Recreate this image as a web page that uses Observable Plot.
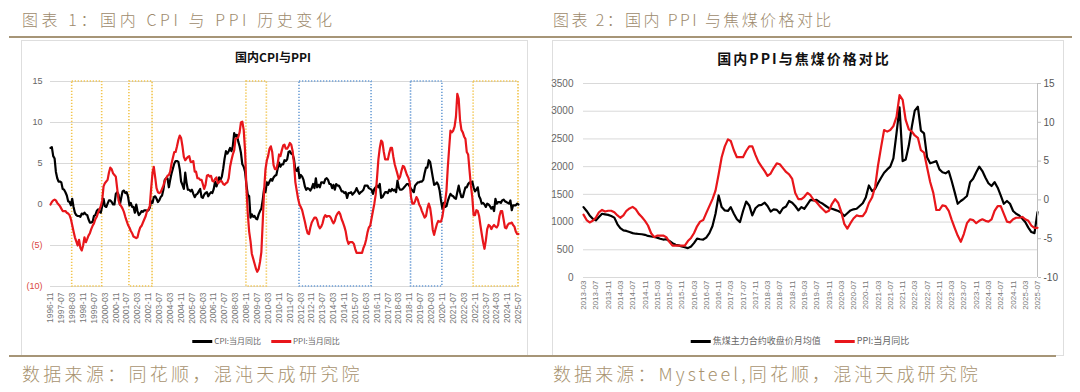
<!DOCTYPE html>
<html><head><meta charset="utf-8">
<script src="https://cdn.jsdelivr.net/npm/d3@7"></script>
<script src="https://cdn.jsdelivr.net/npm/@observablehq/plot@0.6"></script>
<style>
body{margin:0;background:#fff;}
#page{position:relative;width:1080px;height:392px;overflow:hidden;font-family:"Noto Sans CJK SC","Noto Sans",sans-serif;}
.head{position:absolute;top:11px;font-size:16px;line-height:16px;color:#9d8a6c;white-space:nowrap;font-weight:300;}
.src{position:absolute;top:364px;font-size:18px;line-height:18px;color:#a8936f;white-space:nowrap;font-weight:300;}
.rule{position:absolute;height:2px;background:#a69577;}
.box{position:absolute;border:1px solid #dedede;box-sizing:border-box;}
.ptitle{position:absolute;font-weight:700;color:#111;white-space:nowrap;transform:translateX(-50%);}
.legend{position:absolute;display:flex;align-items:center;white-space:nowrap;color:#666;transform:translateX(-50%);}
.sw{display:inline-block;width:20px;height:3px;margin-right:2px;}
.plot{position:absolute;}
</style>
</head><body>
<div id="page">
  <div class="head" style="left:22px;letter-spacing:3.6px">图表 1：国内 CPI 与 PPI 历史变化</div>
  <div class="head" style="left:553px;letter-spacing:2.4px">图表 2：国内 PPI 与焦煤价格对比</div>
  <div class="rule" style="left:9px;top:36px;width:1063px"></div>
  <div class="box" style="left:21px;top:40px;width:507px;height:316px"></div>
  <div class="box" style="left:552px;top:40px;width:512px;height:316px"></div>
  <div class="ptitle" style="left:273px;top:49px;font-size:12px;line-height:16px">国内CPI与PPI</div>
  <div class="ptitle" style="left:804px;top:49px;font-size:14px;line-height:18px;letter-spacing:2px">国内PPI与焦煤价格对比</div>
  <div id="leftPlot" class="plot" style="left:21px;top:40px"></div>
  <div id="rightPlotA" class="plot" style="left:552px;top:40px"></div>
  <div id="rightPlotB" class="plot" style="left:552px;top:40px"></div>
  <div class="legend" style="left:266px;top:335px;font-size:8px;line-height:12px">
    <span class="sw" style="background:#000"></span><span>CPI:当月同比</span>
    <span class="sw" style="background:#e8161b;margin-left:10px"></span><span>PPI:当月同比</span>
  </div>
  <div class="legend" style="left:800px;top:335px;font-size:9px;line-height:12px">
    <span class="sw" style="background:#000"></span><span>焦煤主力合约收盘价月均值</span>
    <span class="sw" style="background:#e8161b;margin-left:14px"></span><span>PPI:当月同比</span>
  </div>
  <div class="rule" style="left:9px;top:355px;width:1047px"></div>
  <div class="src" style="left:22px;letter-spacing:3.3px">数据来源：同花顺，混沌天成研究院</div>
  <div class="src" style="left:553px;letter-spacing:3.1px">数据来源：Mysteel,同花顺，混沌天成研究院</div>
</div>
<script>
// ---------- DATA ----------
// Monthly series start at 1996-11, end at 2025-07
const cpiStart = "1996-11";
const cpi = [
  6.9, 7.0,
  5.9, 5.6, 4.0, 3.2, 2.8, 2.8, 2.7, 1.9, 1.8, 1.5, 1.1, 0.4,
  0.3, -0.1, 0.7, -0.3, -1.0, -1.3, -1.4, -1.4, -1.5, -1.1, -1.2, -1.0,
  -1.2, -1.3, -1.8, -2.2, -2.2, -2.1, -1.4, -1.3, -0.8, -0.6, -0.9, -1.0,
  -0.2, 0.7, -0.2, -0.3, 0.1, 0.5, 0.5, 0.3, 0.0, 0.0, 1.3, 1.5,
  1.2, 0.0, 0.8, 1.6, 1.7, 1.4, 1.5, 1.0, -0.1, 0.2, -0.3, -0.3,
  -1.0, 0.0, -0.8, -1.3, -1.1, -0.8, -0.9, -0.7, -0.7, -0.8, -0.7, -0.4,
  0.4, 0.2, 0.9, 1.0, 0.7, 0.3, 0.5, 0.9, 1.1, 1.8, 3.0, 3.2,
  3.2, 2.1, 3.0, 3.8, 4.4, 5.0, 5.3, 5.3, 5.2, 4.3, 2.8, 2.4,
  1.9, 3.9, 2.7, 1.8, 1.8, 1.6, 1.8, 1.3, 0.9, 1.2, 1.3, 1.6,
  1.9, 0.9, 0.8, 1.2, 1.4, 1.5, 1.0, 1.3, 1.5, 1.4, 1.9, 2.8,
  2.2, 2.7, 3.3, 3.0, 3.4, 4.4, 5.6, 6.5, 6.2, 6.5, 6.9, 6.5,
  7.1, 8.7, 8.3, 8.5, 7.7, 7.1, 6.3, 4.9, 4.6, 4.0, 2.4, 1.2,
  1.0, -1.6, -1.2, -1.5, -1.4, -1.7, -1.8, -1.2, -0.8, -0.5, 0.6, 1.9,
  1.5, 2.7, 2.4, 2.8, 3.1, 2.9, 3.3, 3.5, 3.6, 4.4, 5.1, 4.6,
  4.9, 4.9, 5.4, 5.3, 5.5, 6.4, 6.5, 6.2, 6.1, 5.5, 4.2, 4.1,
  4.5, 3.2, 3.6, 3.4, 3.0, 2.2, 1.8, 2.0, 1.9, 1.7, 2.0, 2.5,
  2.0, 3.2, 2.1, 2.4, 2.1, 2.7, 2.7, 2.6, 3.1, 3.2, 3.0, 2.5,
  2.5, 2.0, 2.4, 1.8, 2.5, 2.3, 2.3, 2.0, 1.6, 1.6, 1.4, 1.5,
  0.8, 1.4, 1.4, 1.5, 1.2, 1.4, 1.6, 2.0, 1.6, 1.3, 1.5, 1.6,
  1.8, 2.3, 2.3, 2.3, 2.0, 1.9, 1.8, 1.3, 1.9, 2.1, 2.3, 2.1,
  2.5, 0.8, 0.9, 1.2, 1.5, 1.5, 1.4, 1.8, 1.6, 1.9, 1.7, 1.8,
  1.5, 2.9, 2.1, 1.8, 1.8, 1.9, 2.1, 2.3, 2.5, 2.5, 2.2, 1.9,
  1.7, 1.5, 2.3, 2.5, 2.7, 2.7, 2.8, 2.8, 3.0, 3.8, 4.5, 4.5,
  5.4, 5.2, 4.3, 3.3, 2.4, 2.5, 2.7, 2.4, 1.7, 0.5, -0.5, 0.2,
  -0.3, -0.2, 0.4, 0.9, 1.3, 1.1, 1.0, 0.8, 0.7, 1.5, 2.3, 1.5,
  0.9, 0.9, 1.5, 2.1, 2.1, 2.5, 2.7, 2.5, 2.8, 2.1, 1.6, 1.8,
  2.1, 1.0, 0.7, 0.1, 0.2, 0.0, -0.3, 0.1, 0.0, -0.2, -0.5, -0.3,
  -0.8, 0.7, 0.1, 0.3, 0.3, 0.2, 0.5, 0.6, 0.4, 0.3, 0.2, 0.1,
  0.5, -0.7, -0.1, -0.1, -0.1, 0.1, 0.0
];
const ppi = [
  0.0, 0.3,
  0.5, 0.6, 0.5, 0.2, 0.0, -0.2, -0.5, -0.8, -0.8, -0.8, -1.0, -1.1,
  -1.3, -1.8, -2.5, -3.3, -4.0, -4.5, -5.0, -4.3, -5.3, -5.6, -5.0, -4.0,
  -4.6, -4.2, -3.8, -3.5, -3.0, -2.6, -2.3, -1.8, -1.5, -1.0, -0.6, -0.2,
  0.5, 2.2, 2.6, 2.8, 3.0, 3.9, 4.5, 4.3, 3.8, 3.6, 3.4, 2.0,
  0.5, 0.0, -0.2, -0.5, -0.9, -1.5, -2.0, -2.5, -2.8, -3.2, -3.5, -3.9,
  -4.0, -4.1, -4.0, -3.3, -2.8, -2.6, -2.2, -1.8, -1.4, -0.8, -0.6, -0.2,
  2.0, 3.9, 4.6, 3.3, 2.0, 1.5, 1.4, 1.5, 1.9, 2.3, 2.9, 3.2,
  3.5, 3.6, 4.0, 5.0, 5.7, 6.4, 6.4, 7.1, 7.9, 8.4, 8.1, 7.1,
  5.8, 5.4, 5.6, 5.8, 5.9, 5.2, 5.2, 5.3, 4.0, 4.0, 3.2, 3.2,
  3.0, 3.0, 2.5, 1.9, 2.4, 3.5, 3.6, 3.4, 3.5, 2.9, 2.8, 3.1,
  3.3, 2.6, 2.7, 2.9, 2.8, 2.5, 2.4, 2.6, 2.7, 3.2, 4.6, 5.4,
  6.1, 6.6, 8.0, 8.1, 8.2, 8.8, 10.0, 10.1, 9.1, 6.6, 2.0, -1.1,
  -3.3, -4.5, -6.0, -6.6, -7.2, -7.8, -8.2, -7.9, -7.0, -5.8, -2.1, 1.7,
  4.3, 5.4, 5.9, 6.8, 7.1, 6.4, 4.8, 4.3, 4.3, 5.0, 6.1, 5.9,
  6.6, 7.2, 7.3, 6.8, 6.8, 7.1, 7.5, 7.3, 6.5, 5.0, 2.7, 1.7,
  0.7, 0.0, -0.3, -0.7, -1.4, -2.1, -2.9, -3.5, -3.6, -2.8, -2.2, -1.9,
  -1.6, -1.6, -1.9, -2.6, -2.9, -2.7, -2.3, -1.6, -1.3, -1.5, -1.4, -1.4,
  -1.6, -2.0, -2.3, -2.0, -1.4, -1.1, -0.9, -1.2, -1.8, -2.2, -2.7, -3.3,
  -4.3, -4.8, -4.6, -4.6, -4.6, -4.8, -5.4, -5.9, -5.9, -5.9, -5.9, -5.9,
  -5.3, -4.9, -4.3, -3.4, -2.8, -2.6, -1.7, -0.8, 0.1, 1.2, 3.3, 5.5,
  6.9, 7.8, 7.6, 6.4, 5.5, 5.5, 5.5, 6.3, 6.9, 6.9, 5.8, 4.9,
  4.3, 3.7, 3.1, 3.4, 4.1, 4.7, 4.6, 4.1, 3.6, 3.3, 2.7, 0.9,
  0.1, 0.1, 0.4, 0.9, 0.6, 0.0, -0.3, -0.8, -1.2, -1.6, -1.4, -0.5,
  0.1, -0.4, -1.5, -3.1, -3.7, -3.0, -2.4, -2.0, -2.1, -2.1, -1.5, -0.4,
  0.3, 1.7, 4.4, 6.8, 9.0, 8.8, 9.0, 9.5, 10.7, 13.5, 12.9, 10.3,
  9.1, 8.8, 8.3, 8.0, 6.4, 6.1, 4.2, 2.3, 0.9, -1.3, -1.3, -0.7,
  -0.8, -1.4, -2.5, -3.6, -4.6, -5.4, -4.4, -3.0, -2.5, -2.6, -3.0, -2.7,
  -2.5, -2.7, -2.8, -2.5, -1.4, -0.8, -0.8, -1.8, -2.8, -2.9, -2.5, -2.3,
  -2.3, -2.2, -2.5, -2.7, -3.3, -3.6, -3.6
];
// Coking coal main contract monthly average close, 2013-03 .. 2025-07
const coalStart = "2013-03";
const coal = [
  1270, 1200, 1120, 1060, 1030, 1090, 1150, 1140, 1130, 1110,
  1080, 960, 890, 850, 840, 820, 800, 790, 785, 780, 770, 750,
  740, 730, 720, 700, 685, 690, 660, 620, 590, 580, 560, 545,
  530, 560, 620, 700, 690, 685, 720, 800, 930, 1150, 1480, 1270,
  1210, 1200, 1270, 1150, 1050, 1000, 1200, 1370, 1300, 1120, 1250, 1300,
  1310, 1350, 1290, 1190, 1230, 1220, 1160, 1250, 1280, 1380, 1350, 1290,
  1210, 1270, 1240, 1320, 1400, 1390, 1400, 1360, 1330, 1290, 1250, 1240,
  1220, 1200, 1170, 1110, 1160, 1210, 1230, 1240, 1290, 1340, 1450, 1660,
  1560, 1600, 1700, 1800, 1890, 1950, 2000, 2150, 2600, 3070, 2100, 2130,
  2380, 2730, 3010, 3080, 2650, 2600, 2170, 2060, 2080, 2100, 1950, 1900,
  1880, 1920, 1750, 1540, 1330, 1380, 1420, 1470, 1720, 1780, 1900, 2000,
  1920, 1800, 1700, 1650, 1720, 1620, 1480, 1330, 1380, 1330, 1200, 1150,
  1120, 1060, 1000, 900, 820, 800, 1180
];
// Highlight periods on chart 1
const boxStarts = ["1998-03", "2001-09", "2008-11", "2012-02", "2018-12", "2022-10"];
const boxEnds   = ["2000-01", "2003-02", "2010-02", "2016-07", "2020-11", "2025-07"];
const boxColors = ["#f2c54e", "#f2c54e", "#f2c54e", "#6d9fd6", "#6d9fd6", "#f2c54e"];
// Tick labels
const leftYTicks = [-10, -5, 0, 5, 10, 15];
const leftXTicks = ["1996-11","1997-07","1998-03","1998-11","1999-07","2000-03","2000-11","2001-07","2002-03","2002-11","2003-07","2004-03","2004-11","2005-07","2006-03","2006-11","2007-07","2008-03","2008-11","2009-07","2010-03","2010-11","2011-07","2012-03","2012-11","2013-07","2014-03","2014-11","2015-07","2016-03","2016-11","2017-07","2018-03","2018-11","2019-07","2020-03","2020-11","2021-07","2022-03","2022-11","2023-07","2024-03","2024-11","2025-07"];
const coalYTicks = [0, 500, 1000, 1500, 2000, 2500, 3000, 3500];
const ppiRightTicks = [-10, -5, 0, 5, 10, 15];
const rightXTicks = ["2013-03","2013-07","2013-11","2014-03","2014-07","2014-11","2015-03","2015-07","2015-11","2016-03","2016-07","2016-11","2017-03","2017-07","2017-11","2018-03","2018-07","2018-11","2019-03","2019-07","2019-11","2020-03","2020-07","2020-11","2021-03","2021-07","2021-11","2022-03","2022-07","2022-11","2023-03","2023-07","2023-11","2024-03","2024-07","2024-11","2025-03","2025-07"];

// ---------- BUILD ----------
const parseM = d3.utcParse("%Y-%m");
const fmtM = d3.utcFormat("%Y-%m");
const monthsFrom = (start, n) => d3.utcMonth.range(parseM(start), d3.utcMonth.offset(parseM(start), n));
const RED = "#e8161b";
const axisFont = '"Liberation Sans", Arial, sans-serif';

const mLeft = monthsFrom(cpiStart, cpi.length);
const cpiData = cpi.map((v, i) => ({date: mLeft[i], v}));
const ppiData = ppi.map((v, i) => ({date: mLeft[i], v}));
const boxData = boxStarts.map((s, i) => ({x1: parseM(s), x2: parseM(boxEnds[i]), c: boxColors[i]}));

const left = Plot.plot({
  width: 507, height: 300,
  marginLeft: 29, marginRight: 10, marginTop: 41, marginBottom: 54,
  style: {fontFamily: axisFont, fontSize: "9px", color: "#595959", background: "transparent", overflow: "visible"},
  x: {type: "utc", domain: [mLeft[0], mLeft[mLeft.length - 1]], axis: null},
  y: {domain: [-10, 15], axis: null},
  marks: [
    Plot.gridY(leftYTicks, {stroke: "#d9d9d9", strokeOpacity: 1, strokeWidth: 1}),
    Plot.rect(boxData, {x1: "x1", x2: "x2", stroke: "c", fill: "none", strokeWidth: 1.6, strokeDasharray: "1.3,1.7"}),
    Plot.lineY(cpiData, {x: "date", y: "v", stroke: "#000", strokeWidth: 2.2}),
    Plot.lineY(ppiData, {x: "date", y: "v", stroke: RED, strokeWidth: 2.2}),
    Plot.axisY(leftYTicks, {label: null, tickSize: 0, tickPadding: 8, fontSize: 9,
      tickFormat: d => d < 0 ? `(${-d})` : `${d}`,
      fill: d => d < 0 ? "#d9473f" : "#666"}),
    Plot.axisX(leftXTicks.map(parseM), {label: null, tickSize: 0, tickPadding: 6, tickRotate: -90, fontSize: 8.5, fill: "#777", tickFormat: fmtM})
  ]
});
document.getElementById("leftPlot").append(left);

const mRight = monthsFrom(coalStart, coal.length);
const coalData = coal.map((v, i) => ({date: mRight[i], v}));
const ppiOffset = d3.utcMonth.count(parseM(cpiStart), parseM(coalStart));
const ppiRData = ppi.slice(ppiOffset).map((v, i) => ({date: mRight[i], v}));
const rDomain = [mRight[0], mRight[mRight.length - 1]];
const rDims = {width: 512, height: 300, marginLeft: 31, marginRight: 27, marginTop: 43, marginBottom: 63};

const rightA = Plot.plot({
  ...rDims,
  style: {fontFamily: axisFont, fontSize: "10px", color: "#595959", background: "transparent", overflow: "visible"},
  x: {type: "utc", domain: rDomain, axis: null},
  y: {domain: [0, 3500], axis: null},
  marks: [
    Plot.gridY(coalYTicks, {stroke: "#d9d9d9", strokeOpacity: 1, strokeWidth: 1}),
    Plot.lineY(coalData, {x: "date", y: "v", stroke: "#000", strokeWidth: 2.2}),
    Plot.axisY(coalYTicks, {label: null, tickSize: 0, tickPadding: 10, fontSize: 10, fill: "#666", tickFormat: d => String(d)}),
    Plot.axisX(rightXTicks.map(parseM), {label: null, tickSize: 0, tickPadding: 3, tickRotate: -90, fontSize: 8, fill: "#777", tickFormat: fmtM})
  ]
});
document.getElementById("rightPlotA").append(rightA);

const rightB = Plot.plot({
  ...rDims,
  style: {fontFamily: axisFont, fontSize: "10px", color: "#595959", background: "transparent", overflow: "visible"},
  x: {type: "utc", domain: rDomain, axis: null},
  y: {domain: [-10, 15], axis: null},
  marks: [
    Plot.ruleX([rDomain[1]], {stroke: "#bfbfbf", strokeWidth: 1}),
    Plot.lineY(ppiRData, {x: "date", y: "v", stroke: RED, strokeWidth: 2.2}),
    Plot.axisY(ppiRightTicks, {label: null, anchor: "right", tickSize: 3, tickPadding: 3, stroke: "#bfbfbf", fontSize: 10, fill: "#555", tickFormat: d => String(d)})
  ]
});
document.getElementById("rightPlotB").append(rightB);
</script>
</body></html>
